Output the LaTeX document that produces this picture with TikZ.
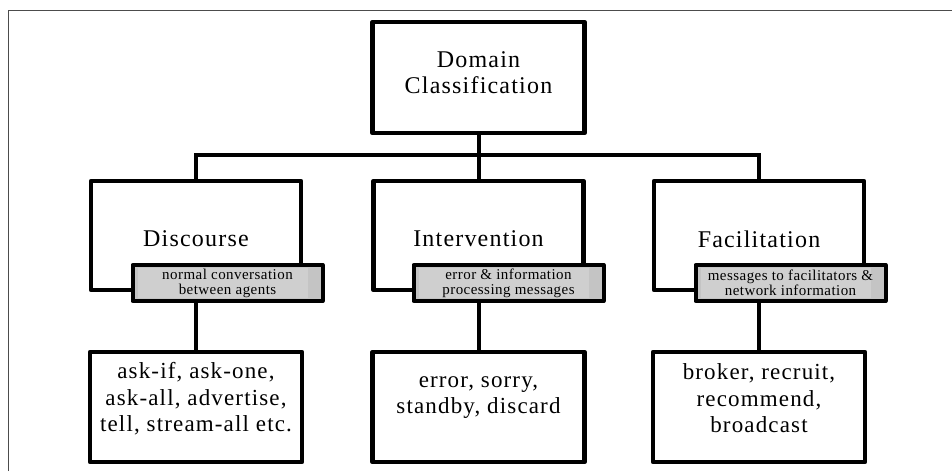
\documentclass[tikz,border=0pt]{standalone}
\usepackage{fontspec}
\setmainfont{Liberation Serif}
\newfontfamily\boxfont[LetterSpace=5]{Liberation Serif}
\newfontfamily\tagfont[LetterSpace=3]{Liberation Serif}

\definecolor{taggray}{RGB}{196,196,196}
\definecolor{taglight}{RGB}{207,207,207}

\tikzset{
	frame/.style={draw=black!70, line width=1.5pt},
	box/.style={draw, fill=white, line width=4.5pt, line join=round,
		minimum width=210pt, minimum height=109pt, inner sep=0pt},
	wire/.style={line width=4pt},
	tag/.style={draw, fill=taggray, line width=4pt, line join=round,
		minimum width=190pt, minimum height=36pt, inner sep=0pt,
		align=center, font=\tagfont\fontsize{15}{15}\selectfont,
		path picture={\fill[taglight]
			([shift={(5pt,-3pt)}]path picture bounding box.north west) rectangle
			([shift={(-15pt,3pt)}]path picture bounding box.south east);}},
	title/.style={align=center, inner sep=0pt, font=\boxfont\fontsize{24}{26.5}\selectfont},
	items/.style={align=center, inner sep=0pt, font=\boxfont\fontsize{23}{26.5}\selectfont}
}

\begin{document}
\begin{tikzpicture}[x=1pt,y=-1pt]
	\useasboundingbox (0,0) rectangle (952,471);
	% frame (runs off at the right and bottom)
	\draw[frame] (8.5,471) -- (8.5,10.5) -- (952,10.5);
	% boxes
	\node[box, minimum width=212pt, minimum height=111pt] (dom) at (478.5,77.5) {};
	\node[box] (disc) at (196,235.5) {};
	\node[box] (inter) at (478.5,235.5) {};
	\node[box] (facil) at (759,235.5) {};
	\node[box, minimum width=212pt, minimum height=110pt] (discx) at (196,407) {};
	\node[box, minimum width=212pt, minimum height=110pt] (interx) at (478.5,407) {};
	\node[box, minimum width=212pt, minimum height=110pt] (facilx) at (759,407) {};
	% tree lines
	\coordinate (bus) at (478.5,155);
	\draw[wire] (dom) -- (bus);
	\draw[wire] (disc.north) |- (bus) -| (facil.north);
	\draw[wire] (bus) -- (inter.north);
	\draw[wire] (disc) -- (discx);
	\draw[wire] (inter) -- (interx);
	\draw[wire] (facil) -- (facilx);
	% grey tags sitting over the lower edge
	\node[tag] (disc-tag) at (227.5,283) {normal conversation\\between agents};
	\node[tag] (inter-tag) at (508.5,283) {error \& information\\processing messages};
	\node[tag] (facil-tag) at (790.5,283) {messages to facilitators \&\\network information};
	% texts
	\node[title] (dom-t) at (478.5,72.5) {Domain\\Classification};
	\node[title] (disc-t) at (196,239) {Discourse};
	\node[title] (inter-t) at (478.5,239) {Intervention};
	\node[title] (facil-t) at (759,239) {Facilitation};
	\node[items] (discx-t) at (196,399) {ask-if, ask-one,\\ask-all, advertise,\\tell, stream-all etc.};
	\node[items] (interx-t) at (478.5,397.5) {error, sorry,\\standby, discard};
	\node[items] (facilx-t) at (759,398.5) {broker, recruit,\\recommend,\\broadcast};
\end{tikzpicture}
\end{document}
